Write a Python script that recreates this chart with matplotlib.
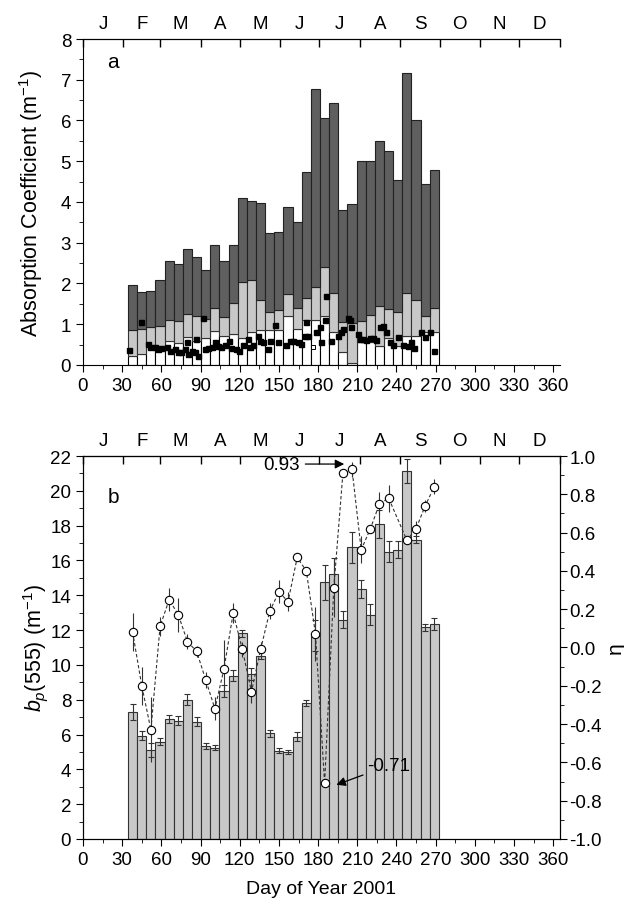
import matplotlib
matplotlib.use("Agg")
import matplotlib.pyplot as plt
import numpy as np

plt.rcParams['font.family'] = ['Liberation Sans', 'DejaVu Sans']
plt.rcParams['mathtext.fontset'] = 'custom'
plt.rcParams['mathtext.rm'] = 'Liberation Sans'
plt.rcParams['mathtext.it'] = 'Liberation Sans:italic'

# weekly bins (day of year, centre)
days = [38 + 7 * k for k in range(34)]

# panel a: cumulative tops of the three layers
a_total = [1.96, 1.78, 1.81, 2.09, 2.54, 2.49, 2.85, 2.64, 2.33, 2.95, 2.56, 2.95,
           4.11, 4.02, 3.98, 3.24, 3.26, 3.87, 3.52, 4.73, 6.77, 6.06, 6.43, 3.80,
           3.96, 5.01, 5.01, 5.49, 5.24, 4.55, 7.17, 6.02, 4.44, 4.79]
a_mid = [0.86, 0.88, 0.92, 0.95, 1.10, 1.09, 1.26, 1.21, 1.13, 1.39, 1.18, 1.53,
         2.03, 2.09, 1.60, 1.31, 1.36, 1.73, 1.39, 1.64, 1.92, 2.40, 1.77, 1.06,
         1.02, 1.09, 1.23, 1.44, 1.37, 1.31, 1.77, 1.60, 1.21, 1.40]
a_low = [0.23, 0.26, 0.50, 0.45, 0.60, 0.55, 0.68, 0.60, 0.65, 0.84, 0.70, 0.75,
         0.65, 0.80, 0.86, 0.86, 0.85, 1.21, 0.88, 1.10, 1.10, 1.20, 0.80, 0.31,
         0.05, 0.56, 0.56, 0.47, 0.65, 0.47, 0.72, 0.72, 0.80, 0.80]

# panel a: daily points
pt_day = [35.4, 44.3, 49.9, 51.2, 55.0, 57.6, 60.1, 64.0, 66.5, 70.3, 72.9, 75.4, 78.0,
          79.3, 80.5, 83.1, 85.6, 86.9, 88.2, 92.0, 93.3, 95.8, 98.4, 100.9, 103.5,
          106.0, 108.6, 111.9, 113.7, 117.5, 119.5, 122.6, 126.4, 127.7, 130.2, 134.1,
          135.3, 137.9, 141.7, 143.0, 146.8, 149.3, 155.7, 158.3, 160.8, 164.6, 167.2,
          169.7, 171.0, 172.3, 178.6, 181.2, 182.5, 185.0, 185.8, 190.1, 195.2, 197.8,
          199.0, 202.8, 204.1, 205.4, 210.5, 211.8, 214.3, 216.9, 219.4, 222.0, 224.5,
          227.1, 229.6, 232.2, 234.7, 237.3, 241.1, 244.9, 248.7, 251.3, 253.8, 258.9,
          261.5, 265.3, 268.6]
pt_val = [0.37, 1.06, 0.52, 0.43, 0.43, 0.39, 0.41, 0.43, 0.35, 0.39, 0.33, 0.31, 0.39,
          0.56, 0.27, 0.35, 0.31, 0.64, 0.23, 1.15, 0.39, 0.41, 0.43, 0.56, 0.46,
          0.43, 0.48, 0.60, 0.41, 0.39, 0.35, 0.48, 0.64, 0.43, 0.48, 0.72,
          0.60, 0.56, 0.39, 0.60, 0.98, 0.56, 0.48, 0.60, 0.60, 0.56, 0.52,
          0.72, 1.06, 0.70, 0.80, 0.92, 0.56, 1.10, 1.69, 0.60, 0.72, 0.80,
          0.88, 1.15, 1.10, 0.92, 0.76, 0.64, 0.64, 0.62, 0.65, 0.65, 0.62,
          0.92, 0.96, 0.80, 0.56, 0.49, 0.68, 0.49, 0.46, 0.56, 0.41, 0.80,
          0.68, 0.80, 0.35]
open_day = [176.1]
open_val = [0.43]

# panel b: particle backscattering and eta
bp = [7.28, 5.93, 5.13, 5.59, 6.89, 6.80, 8.00, 6.74, 5.34, 5.25, 8.52, 9.38, 11.81,
      9.48, 10.53, 6.07, 5.07, 4.98, 5.88, 7.81, 11.68, 14.74, 15.22, 12.60, 16.75,
      14.36, 12.89, 18.09, 16.50, 16.62, 21.15, 17.19, 12.16, 12.35]
bp_err = [0.45, 0.25, 0.40, 0.20, 0.25, 0.25, 0.30, 0.25, 0.15, 0.12, 0.35, 0.30, 0.20,
          0.35, 0.20, 0.20, 0.15, 0.12, 0.25, 0.15, 0.90, 1.00, 0.90, 0.50, 0.90,
          0.50, 0.60, 0.80, 0.60, 0.50, 0.70, 0.20, 0.20, 0.35]

eta_day = [38, 45, 52, 59, 66, 73, 80, 87, 94, 101, 108, 115, 122, 129, 136, 143, 150,
           157, 164, 171, 178, 185, 192, 199, 206, 213, 220, 227, 234, 248, 255, 262, 269]
eta = [0.08, -0.20, -0.43, 0.11, 0.25, 0.17, 0.03, -0.02, -0.17, -0.32, -0.11, 0.18,
       -0.01, -0.23, -0.01, 0.19, 0.29, 0.24, 0.47, 0.40, 0.07, -0.71, 0.31, 0.91,
       0.93, 0.51, 0.62, 0.75, 0.78, 0.56, 0.62, 0.74, 0.84]
eta_err = [0.10, 0.10, 0.17, 0.05, 0.06, 0.09, 0.04, 0.03, 0.04, 0.06, 0.15, 0.05,
           0.04, 0.06, 0.04, 0.04, 0.06, 0.05, 0.02, 0.02, 0.14, 0.0, 0.15, 0.0,
           0.04, 0.07, 0.02, 0.06, 0.07, 0.02, 0.04, 0.03, 0.04]

months = ['J', 'F', 'M', 'A', 'M', 'J', 'J', 'A', 'S', 'O', 'N', 'D']
month_edges = [0, 31, 59, 90, 120, 151, 181, 212, 243, 273, 304, 334, 365]
month_mid = [(month_edges[i] + month_edges[i + 1]) / 2 for i in range(12)]

dark = '#5f5f5f'
light = '#c8c8c8'
TS = 13.5


def month_axis(ax):
    sec = ax.secondary_xaxis('top')
    sec.set_xticks(month_edges, labels=[''] * len(month_edges))
    sec.set_xticks(month_mid, labels=months, minor=True)
    sec.tick_params(which='major', direction='in', length=6, width=1)
    sec.tick_params(which='minor', length=0, labelsize=TS, pad=5)


def day_axis(ax):
    ax.set_xlim(0, 365)
    ax.set_xticks(range(0, 361, 30))
    ax.set_xticks(range(15, 361, 30), minor=True)
    ax.tick_params(axis='x', which='major', direction='out', length=5, labelsize=TS)
    ax.tick_params(axis='x', which='minor', direction='out', length=3)


fig = plt.figure(figsize=(6.24, 9.03), dpi=100)

# ---- panel a ----
ax1 = fig.add_axes([0.133, 0.5947, 0.764, 0.361])
low = np.array(a_low)
mid = np.array(a_mid)
tot = np.array(a_total)
ax1.bar(days, low, width=7, color='white', edgecolor='black', linewidth=0.8)
ax1.bar(days, mid - low, bottom=low, width=7, color=light, edgecolor='#333333', linewidth=0.8)
ax1.bar(days, tot - mid, bottom=mid, width=7, color=dark, edgecolor='#222222', linewidth=0.8)
ax1.plot(pt_day, pt_val, 's', color='black', markersize=3.6, linestyle='none')
ax1.plot(open_day, open_val, 's', mfc='white', mec='black', markersize=3.4, mew=0.7)
ax1.set_ylim(0, 8)
ax1.set_yticks(range(0, 9))
ax1.set_yticks(np.arange(0.5, 8, 1), minor=True)
ax1.tick_params(axis='y', which='major', direction='out', length=5, labelsize=TS)
ax1.tick_params(axis='y', which='minor', direction='out', length=3)
day_axis(ax1)
ax1.spines['right'].set_visible(False)
month_axis(ax1)
ax1.set_ylabel('Absorption Coefficient (m$^{-1}$)', fontsize=15.5, labelpad=11)
ax1.text(23, 7.46, 'a', fontsize=15, ha='center', va='center')

# ---- panel b ----
ax2 = fig.add_axes([0.133, 0.0698, 0.764, 0.4241])
ax2.bar(days, bp, width=7, color=light, edgecolor='#333333', linewidth=0.8,
        yerr=bp_err, error_kw=dict(ecolor='#333333', elinewidth=0.8, capsize=2.5, capthick=0.8))
ax2.set_ylim(0, 22)
ax2.set_yticks(range(0, 23, 2))
ax2.set_yticks(range(1, 22, 2), minor=True)
ax2.tick_params(axis='y', which='major', direction='out', length=5, labelsize=TS)
ax2.tick_params(axis='y', which='minor', direction='out', length=3)
day_axis(ax2)
month_axis(ax2)
ax2.set_ylabel('$b_p$(555) (m$^{-1}$)', fontsize=15.5, labelpad=0)
ax2.set_xlabel('Day of Year 2001', fontsize=14, labelpad=9)
ax2.text(23, 19.7, 'b', fontsize=15, ha='center', va='center')

ax3 = ax2.twinx()
ax3.errorbar(eta_day, eta, yerr=eta_err, fmt='none', ecolor='#333333', elinewidth=0.8)
ax3.plot(eta_day, eta, '--', color='#333333', linewidth=0.8, dashes=(3, 2))
ax3.plot(eta_day, eta, 'o', mfc='white', mec='black', markersize=6, mew=0.8)
ax3.set_ylim(-1, 1)
eta_ticks = np.round(np.arange(-1, 1.01, 0.2), 1)
ax3.set_yticks(eta_ticks)
ax3.set_yticks(np.round(np.arange(-0.9, 1, 0.2), 1), minor=True)
ax3.set_yticklabels(['%.1f' % (v + 0.0) for v in eta_ticks])
ax3.tick_params(axis='y', which='major', direction='out', length=5, labelsize=TS, pad=2)
ax3.tick_params(axis='y', which='minor', direction='out', length=3)
ax3.set_ylabel('η', fontsize=15, labelpad=3)
ax3.annotate('0.93', xy=(200, 0.958), xytext=(152, 0.958), fontsize=TS,
             ha='center', va='center',
             arrowprops=dict(arrowstyle='-|>', color='black', lw=0.9, shrinkA=2, shrinkB=0))
ax3.annotate('-0.71', xy=(192, -0.722), xytext=(234, -0.617), fontsize=TS,
             ha='center', va='center',
             arrowprops=dict(arrowstyle='-|>', color='black', lw=0.9, shrinkA=1, shrinkB=2))

fig.savefig('out.png', dpi=100)
